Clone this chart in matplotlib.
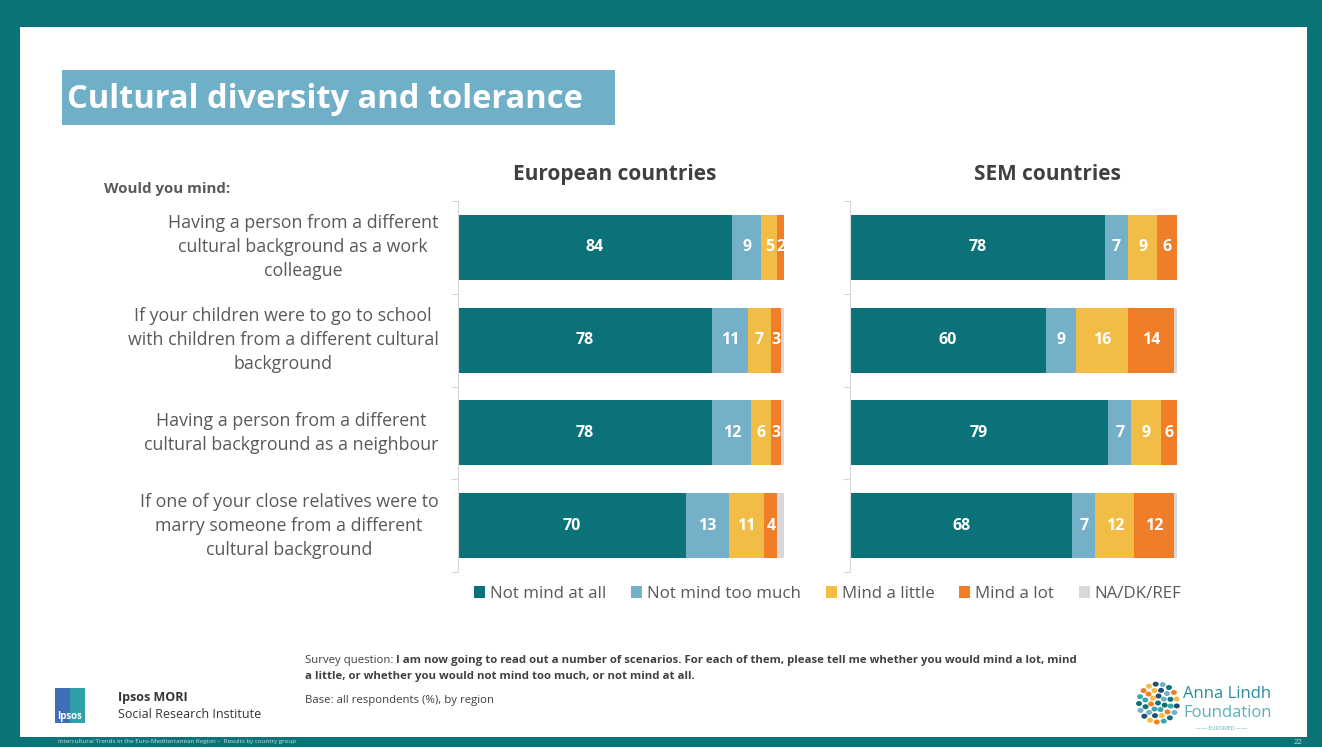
import numpy as np
import matplotlib.pyplot as plt
from matplotlib.patches import Rectangle, Ellipse

plt.rcParams['font.family'] = ['Open Sans', 'DejaVu Sans']

# Podaci
questions = [
    'Having a person from a different\ncultural background as a work\ncolleague',
    'If your children were to go to school\nwith children from a different cultural\nbackground',
    'Having a person from a different\ncultural background as a neighbour',
    'If one of your close relatives were to\nmarry someone from a different\ncultural background',
]
answers = ['Not mind at all', 'Not mind too much', 'Mind a little', 'Mind a lot', 'NA/DK/REF']

eu_not_at_all = [84, 78, 78, 70]
eu_not_much = [9, 11, 12, 13]
eu_little = [5, 7, 6, 11]
eu_lot = [2, 3, 3, 4]
eu_na = [0.5, 1, 1, 2]

sem_not_at_all = [78, 60, 79, 68]
sem_not_much = [7, 9, 7, 7]
sem_little = [9, 16, 9, 12]
sem_lot = [6, 14, 6, 12]
sem_na = [0.5, 1, 0.5, 1]

colors = ['#0b7279', '#74b0c8', '#f2bd47', '#f07d27', '#d9d9d9']
teal = '#0a7378'
gray_txt = '#595959'

W, H = 1322, 747
fig = plt.figure(figsize=(W / 100, H / 100), dpi=100, facecolor=teal)


def box(x0, y0, x1, y1):
    # pikseli (gore-levo) -> koordinate figure
    return [x0 / W, 1 - y1 / H, (x1 - x0) / W, (y1 - y0) / H]


def fx(x):
    return x / W


def fy(y):
    return 1 - y / H


# Bela povrsina slajda
fig.patches.append(Rectangle((fx(20), fy(737)), fx(1307) - fx(20), fy(27) - fy(737),
                             transform=fig.transFigure, facecolor='white', edgecolor='none',
                             zorder=-10))

# Naslov
fig.patches.append(Rectangle((fx(62), fy(125)), fx(615) - fx(62), fy(70) - fy(125),
                             transform=fig.transFigure, facecolor='#6fb0c8', edgecolor='none',
                             zorder=-5))
fig.text(fx(67), fy(100), 'Cultural diversity and tolerance', color='white', fontsize=23.5,
         fontweight='bold', va='center', ha='left')

fig.text(fx(104), fy(189), 'Would you mind:', color=gray_txt, fontsize=10.8, fontweight='bold',
         va='center', ha='left')


def panel(rect, title, title_x, series):
    ax = fig.add_axes(rect)
    ax.set_facecolor('none')
    y = np.arange(len(questions))
    left = np.zeros(len(questions))
    handles = []
    for i, vals in enumerate(series):
        bars = ax.barh(y, vals, left=left, height=0.7, color=colors[i], label=answers[i])
        handles.append(bars)
        if i < 4:
            ax.bar_label(bars, labels=[str(v) for v in vals], label_type='center',
                         color='white', fontsize=11.5, fontweight='bold')
        left += np.array(vals)
    ax.set_xlim(0, 100)
    ax.set_ylim(len(questions) - 0.5, -0.5)
    ax.set_xticks([])
    ax.set_yticks(np.arange(len(questions) + 1) - 0.5)
    ax.set_yticklabels([])
    ax.tick_params(axis='y', length=5, color='#d9d9d9', width=0.8)
    for s in ['top', 'right', 'bottom']:
        ax.spines[s].set_visible(False)
    ax.spines['left'].set_color('#d9d9d9')
    ax.spines['left'].set_linewidth(0.8)
    ax.set_title(title, x=title_x, fontsize=15, fontweight='bold', color='#404040', pad=15)
    return ax, handles


ax1, handles = panel(box(458, 201, 784, 572), 'European countries', 0.48,
                     [eu_not_at_all, eu_not_much, eu_little, eu_lot, eu_na])
ax2, _ = panel(box(850, 201, 1177, 572), 'SEM countries', 0.605,
               [sem_not_at_all, sem_not_much, sem_little, sem_lot, sem_na])

# Pitanja levo od grafika
for i, q in enumerate(questions):
    ax1.text(-0.06, i, q, transform=ax1.get_yaxis_transform(), ha='right', va='center',
             multialignment='center', fontsize=12.8, color=gray_txt, linespacing=1.42)

fig.legend(handles, answers, loc='center', bbox_to_anchor=(fx(828), fy(594)), ncol=5,
           frameon=False, fontsize=12.2, handlelength=0.65, handleheight=0.65, handletextpad=0.3,
           columnspacing=1.45, labelcolor=gray_txt)

# Napomena o pitanju
fig.canvas.draw()
r = fig.canvas.get_renderer()
t = fig.text(fx(305), fy(660), 'Survey question: ', fontsize=8.2, color='#404040', va='center')
wx = t.get_window_extent(r).x1 / W
fig.text(wx, fy(660), 'I am now going to read out a number of scenarios. For each of them, please tell me '
         'whether you would mind a lot, mind', fontsize=8.2, color='#404040', va='center',
         fontweight='bold')
fig.text(fx(305), fy(677), 'a little, or whether you would not mind too much, or not mind at all.',
         fontsize=8.2, color='#404040', va='center', fontweight='bold')
fig.text(fx(305), fy(700), 'Base: all respondents (%), by region', fontsize=8.2, color='#404040',
         va='center')

# Ipsos logo
fig.patches.append(Rectangle((fx(55), fy(723)), fx(85) - fx(55), fy(688) - fy(723),
                             transform=fig.transFigure, facecolor='#3d6fb6', edgecolor='none'))
fig.patches.append(Rectangle((fx(70), fy(723)), fx(85) - fx(70), fy(688) - fy(723),
                             transform=fig.transFigure, facecolor='#2f9fa8', edgecolor='none'))
fig.text(fx(70), fy(716), 'Ipsos', fontsize=7, color='white', ha='center', va='center',
         fontweight='bold')
fig.text(fx(118), fy(698), 'Ipsos MORI', fontsize=9, color='#333333', fontweight='bold',
         va='center')
fig.text(fx(118), fy(715), 'Social Research Institute', fontsize=9, color='#333333', va='center')

# Anna Lindh Foundation logo
cx, cy = 1158, 703
dot_cols = ['#0b7279', '#3aa5ab', '#f07d27', '#f2bd47', '#1d4f6e', '#74b0c8']
k = 0
for ring, n in [(0, 1), (7, 7), (13, 12), (19, 17)]:
    for j in range(n):
        a = 2 * np.pi * j / n + ring * 0.3
        px, py = cx + ring * np.cos(a), cy + ring * np.sin(a)
        fig.patches.append(Ellipse((fx(px), fy(py)), 6 / W, 5 / H, transform=fig.transFigure,
                                   facecolor=dot_cols[k % len(dot_cols)], edgecolor='none'))
        k += 1
fig.text(fx(1183), fy(694), 'Anna Lindh', fontsize=12, color='#2a8f96', va='center')
fig.text(fx(1183), fy(713), 'Foundation', fontsize=12, color='#5bb3b8', va='center')
fig.text(fx(1222), fy(728), '—— EUROMED ——', fontsize=4, color='#5bb3b8', va='center',
         ha='center')

# Podnozje
fig.text(fx(58), fy(742), 'Intercultural Trends in the Euro-Mediterranean Region \u2013  Results by country group',
         fontsize=4.5, color='#c9e0e1', va='center')
fig.text(fx(1302), fy(742), '22', fontsize=5.5, color='#c9e0e1', va='center', ha='right')

fig.savefig('out.png', dpi=100, facecolor=teal)
